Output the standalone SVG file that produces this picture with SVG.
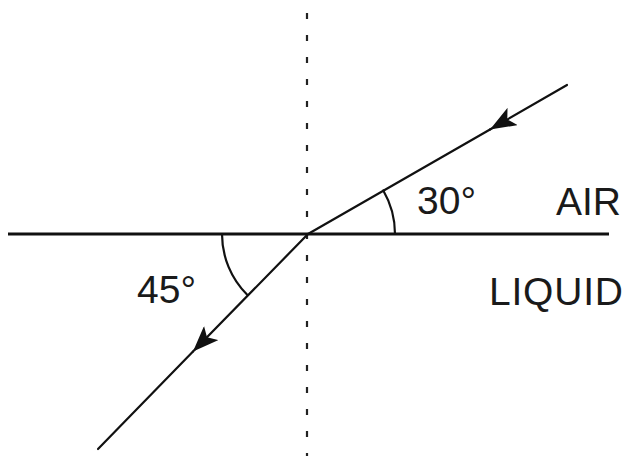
<svg xmlns="http://www.w3.org/2000/svg" width="630" height="456" viewBox="0 0 630 456">
<defs>
<style>
.ln{stroke:#111;fill:none;stroke-width:2.2;stroke-linecap:round}
.txt{font-family:"Liberation Sans",Arial,sans-serif;font-size:39px;fill:#1a1a1a}
</style>
<marker id="ah" viewBox="0 0 26 20" refX="26" refY="10" markerUnits="userSpaceOnUse" markerWidth="26" markerHeight="20" orient="auto">
<path d="M0,0 L26,10 L0,20 L6,10 z" fill="#111"/>
</marker>
</defs>
<rect width="630" height="456" fill="#fff"/>
<g id="normal">
<line x1="307" y1="13" x2="307" y2="456" stroke="#222" stroke-width="2.2" stroke-dasharray="6,16"/>
</g>
<g id="interface">
<line x1="8" y1="234" x2="609" y2="234" stroke="#111" stroke-width="3"/>
</g>
<g id="connectors">
<path class="ln" d="M567,85 L490,129.5" marker-end="url(#ah)"/>
<path class="ln" d="M490,129.5 L308,234"/>
<path class="ln" d="M308,234 L193,351.6" marker-end="url(#ah)"/>
<path class="ln" d="M193,351.6 L98,449"/>
</g>
<g id="angle30">
<path class="ln" d="M395,234 A87,87 0 0 0 383.3,190.5"/>
<text class="txt" x="417" y="214">30°</text>
</g>
<g id="angle45">
<path class="ln" d="M222,234 A86,86 0 0 0 247.2,294.8"/>
<text class="txt" x="137" y="303">45°</text>
</g>
<g id="air"><text class="txt" x="556" y="215">AIR</text></g>
<g id="liquid"><text class="txt" x="489" y="305" textLength="134">LIQUID</text></g>
</svg>
